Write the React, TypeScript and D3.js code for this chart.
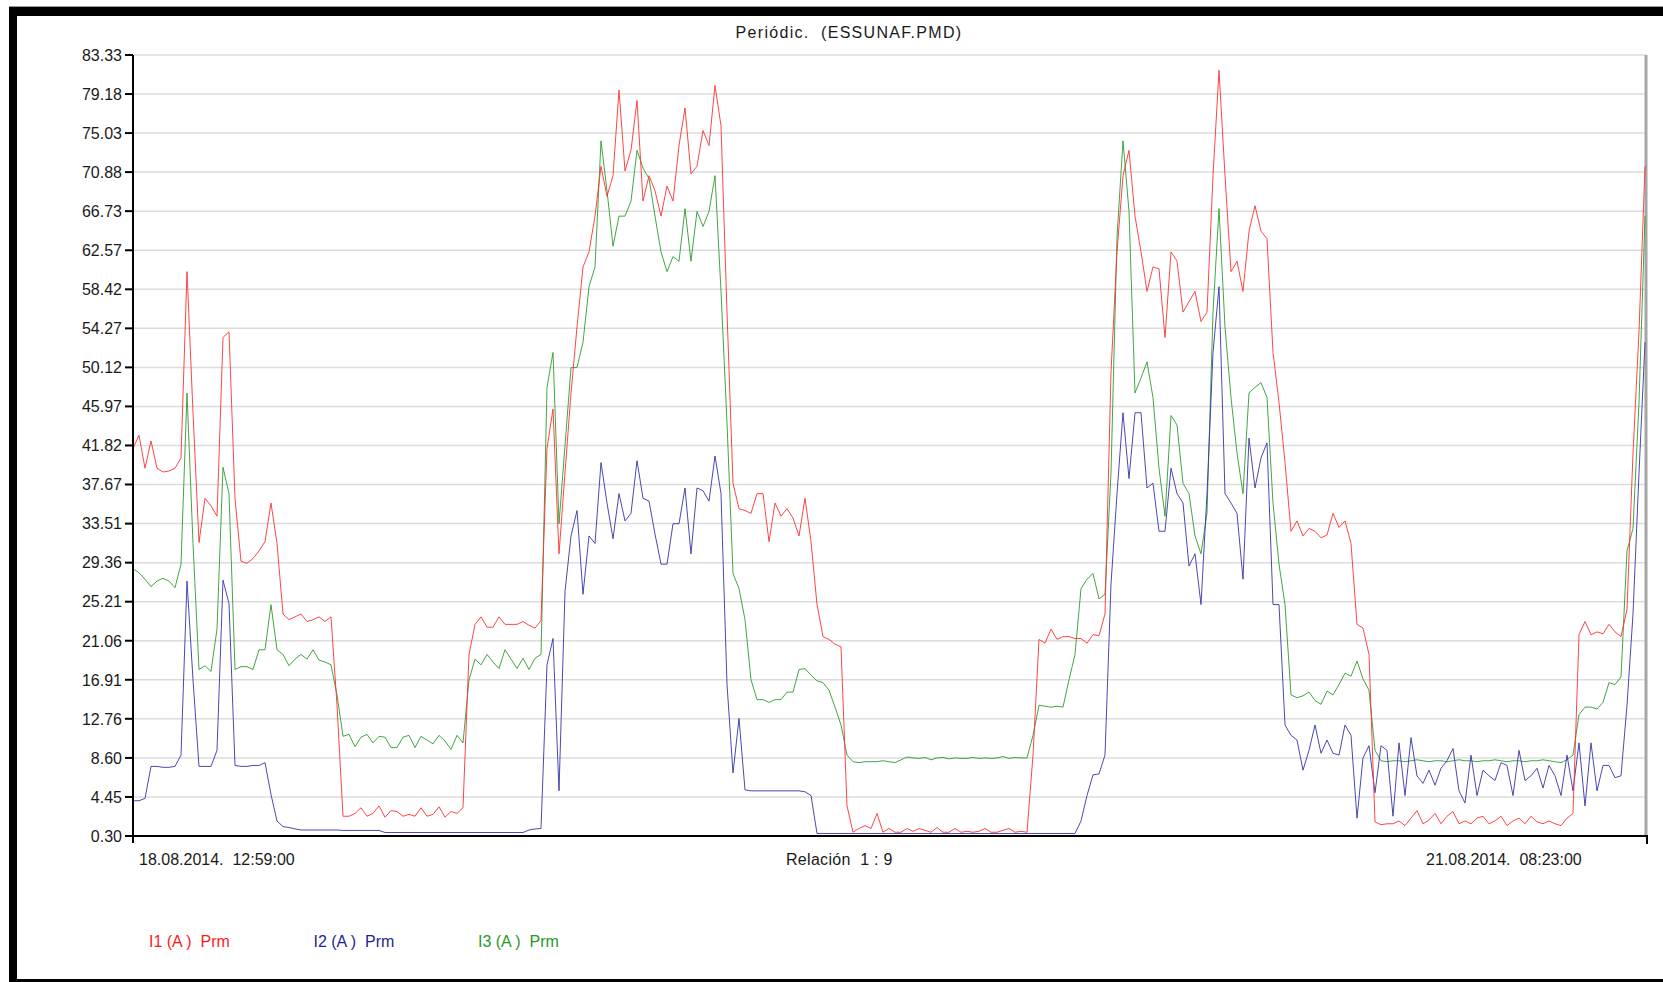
import React from "react";
import * as d3 from "d3";

// y axis tick labels (as printed by the meter software)
const yTicks = [0.30, 4.45, 8.60, 12.76, 16.91, 21.06, 25.21, 29.36, 33.51, 37.67, 41.82,
  45.97, 50.12, 54.27, 58.42, 62.57, 66.73, 70.88, 75.03, 79.18, 83.33];

const title = "Periódic.  (ESSUNAF.PMD)";
const startLabel = "18.08.2014.  12:59:00";
const ratioLabel = "Relación  1 : 9";
const endLabel = "21.08.2014.  08:23:00";

// I1 (A) Prm
const i1 = [
  41.5, 42.9, 39.4, 42.3, 39.4, 39.0, 39.1, 39.4, 40.5, 60.3, 45.3, 31.5, 36.2, 35.4, 34.3, 53.3, 53.9, 36.2, 29.5, 29.3,
  29.8, 30.6, 31.6, 35.7, 31.4, 23.9, 23.3, 23.6, 23.9, 23.1, 23.3, 23.6, 23.1, 23.6, 14.2, 2.4, 2.4, 2.7, 3.3, 2.4,
  2.7, 3.5, 2.3, 3.0, 2.9, 2.4, 2.6, 2.4, 3.3, 2.4, 2.6, 3.4, 2.3, 2.9, 2.7, 3.3, 19.6, 22.8, 23.6, 22.5,
  22.5, 23.6, 22.8, 22.8, 22.8, 23.1, 22.7, 22.4, 23.2, 41.5, 45.7, 30.3, 38.9, 47.4, 54.4, 60.8, 62.4, 66.2, 71.5, 68.3,
  70.5, 79.6, 71.0, 73.2, 78.5, 67.8, 70.5, 68.9, 66.2, 69.4, 67.8, 73.7, 77.7, 70.7, 71.5, 75.3, 73.7, 80.1, 75.8, 56.0,
  37.8, 35.1, 34.9, 34.6, 36.7, 36.7, 31.6, 35.7, 34.3, 35.1, 34.1, 32.2, 36.2, 31.6, 24.9, 21.5, 21.2, 20.7, 20.4, 3.5,
  0.7, 1.1, 1.4, 1.1, 2.7, 0.7, 1.1, 0.7, 0.7, 1.1, 0.8, 1.1, 0.9, 0.7, 1.2, 0.7, 0.7, 1.1, 0.7, 0.8,
  0.7, 0.8, 1.1, 0.7, 0.7, 0.9, 1.1, 0.7, 0.8, 0.7, 8.9, 21.2, 20.8, 22.3, 21.2, 21.5, 21.5, 21.3, 21.3, 20.8,
  21.7, 21.6, 23.9, 49.6, 62.4, 70.5, 73.2, 66.2, 62.4, 58.2, 60.8, 60.6, 53.3, 62.4, 61.4, 56.0, 57.1, 58.2, 55.0, 56.0,
  70.5, 81.7, 70.5, 60.3, 61.4, 58.2, 64.6, 67.3, 64.6, 63.8, 51.7, 46.4, 40.0, 32.7, 33.8, 32.2, 33.0, 32.7, 32.0, 32.3,
  34.6, 33.1, 33.8, 31.4, 22.8, 22.4, 19.6, 1.8, 1.5, 1.6, 1.6, 1.9, 1.4, 2.2, 3.0, 1.6, 2.0, 2.7, 1.6, 2.4,
  2.9, 1.6, 1.9, 1.6, 2.2, 2.4, 1.6, 1.9, 2.4, 1.4, 1.9, 2.2, 1.6, 2.4, 1.8, 1.6, 1.9, 1.6, 1.4, 2.2,
  2.7, 21.7, 23.1, 21.7, 22.0, 21.8, 22.8, 22.0, 21.5, 24.4, 41.0, 53.9, 71.5,
];

// I2 (A) Prm
const i2 = [
  4.05, 4.05, 4.3, 7.7, 7.7, 7.6, 7.6, 7.7, 8.9, 27.4, 16.9, 7.7, 7.7, 7.7, 9.4, 27.5, 25.0, 7.8, 7.7, 7.7,
  7.8, 7.8, 8.1, 4.7, 1.9, 1.3, 1.2, 1.05, 0.94, 0.94, 0.94, 0.94, 0.94, 0.94, 0.94, 0.89, 0.89, 0.89, 0.89, 0.89,
  0.89, 0.89, 0.67, 0.67, 0.67, 0.67, 0.67, 0.67, 0.67, 0.67, 0.67, 0.67, 0.67, 0.67, 0.67, 0.67, 0.67, 0.67, 0.67, 0.67,
  0.67, 0.67, 0.67, 0.67, 0.67, 0.67, 0.94, 1.05, 1.1, 18.5, 21.3, 5.1, 26.3, 32.2, 34.9, 26.0, 32.2, 31.4, 40.0, 35.7,
  31.9, 36.7, 33.8, 34.6, 40.2, 36.2, 35.9, 32.4, 29.2, 29.2, 33.5, 33.5, 37.3, 30.3, 37.3, 37.0, 35.9, 40.7, 36.7, 16.4,
  7.0, 12.8, 5.2, 5.1, 5.1, 5.1, 5.1, 5.1, 5.1, 5.1, 5.1, 5.1, 5.0, 4.6, 0.57, 0.57, 0.57, 0.57, 0.57, 0.57,
  0.57, 0.57, 0.57, 0.57, 0.57, 0.57, 0.57, 0.57, 0.57, 0.57, 0.57, 0.57, 0.57, 0.57, 0.57, 0.57, 0.57, 0.57, 0.57, 0.57,
  0.57, 0.57, 0.57, 0.57, 0.57, 0.57, 0.57, 0.57, 0.57, 0.57, 0.57, 0.57, 0.57, 0.57, 0.57, 0.57, 0.57, 0.57, 1.9, 4.6,
  6.8, 6.9, 8.9, 27.1, 36.7, 45.3, 38.3, 45.3, 45.3, 37.3, 37.8, 32.7, 32.7, 39.4, 36.7, 35.7, 29.0, 30.3, 24.9, 36.7,
  51.7, 58.7, 36.7, 35.7, 34.6, 27.6, 42.6, 37.3, 40.5, 42.1, 24.9, 24.9, 12.1, 11.0, 10.5, 7.3, 9.4, 12.1, 9.1, 10.5,
  9.1, 8.9, 12.1, 11.0, 2.2, 8.6, 9.9, 4.9, 9.9, 9.4, 2.4, 10.2, 4.6, 10.75, 6.7, 5.9, 7.3, 5.7, 7.5, 8.3,
  9.6, 5.1, 3.8, 8.9, 4.6, 7.3, 6.7, 6.2, 8.1, 7.8, 4.6, 9.4, 6.2, 6.7, 7.5, 5.4, 7.8, 6.7, 4.6, 8.9,
  5.1, 10.2, 3.5, 10.2, 5.1, 7.8, 7.8, 6.5, 6.7, 14.2, 23.9, 38.9, 52.8,
];

// I3 (A) Prm
const i3 = [
  28.7, 28.3, 27.6, 26.8, 27.4, 27.7, 27.4, 26.7, 29.2, 47.4, 31.4, 18.0, 18.4, 17.8, 22.3, 39.5, 36.7, 18.0, 18.3, 18.3,
  18.0, 20.1, 20.1, 24.9, 20.1, 19.6, 18.4, 19.1, 19.6, 19.1, 20.1, 19.0, 18.8, 18.5, 15.3, 10.9, 11.1, 9.8, 10.8, 11.1,
  10.2, 10.9, 10.8, 9.7, 9.7, 10.8, 11.0, 9.7, 10.9, 10.5, 10.1, 11.0, 10.4, 9.5, 11.0, 10.2, 16.9, 19.1, 18.5, 19.6,
  18.8, 18.1, 20.1, 19.1, 18.1, 19.2, 18.0, 19.2, 19.6, 48.0, 51.7, 33.5, 41.8, 50.1, 50.1, 52.8, 58.7, 60.8, 74.2, 68.9,
  63.0, 66.2, 66.2, 67.8, 73.2, 71.3, 70.2, 66.2, 62.4, 60.3, 61.9, 61.4, 67.0, 61.4, 66.7, 65.1, 66.7, 70.5, 58.2, 44.2,
  28.2, 26.6, 23.3, 16.9, 14.8, 14.8, 14.5, 14.8, 14.8, 15.6, 15.6, 18.0, 18.1, 17.4, 16.8, 16.6, 15.8, 14.0, 12.1, 8.9,
  8.2, 8.1, 8.2, 8.2, 8.2, 8.3, 8.2, 8.1, 8.4, 8.7, 8.6, 8.55, 8.65, 8.4, 8.6, 8.65, 8.5, 8.6, 8.55, 8.55,
  8.65, 8.55, 8.6, 8.55, 8.6, 8.75, 8.55, 8.65, 8.6, 8.6, 11.0, 14.2, 14.1, 14.0, 14.1, 14.0, 16.9, 19.6, 26.6, 27.6,
  28.2, 25.5, 26.0, 38.9, 64.0, 74.2, 66.7, 47.4, 49.0, 50.7, 46.9, 39.4, 34.3, 45.0, 44.0, 37.8, 36.7, 32.2, 30.3, 34.6,
  56.0, 67.0, 54.4, 46.9, 41.0, 36.7, 47.4, 48.0, 48.5, 46.9, 35.7, 29.2, 24.9, 15.3, 15.0, 15.2, 15.6, 14.7, 14.3, 15.7,
  15.3, 16.4, 17.6, 17.3, 18.9, 17.0, 15.8, 9.4, 8.3, 8.2, 8.3, 8.3, 8.2, 8.3, 8.4, 8.3, 8.2, 8.3, 8.3, 8.2,
  8.3, 8.4, 8.3, 8.3, 8.2, 8.3, 8.3, 8.4, 8.3, 8.2, 8.3, 8.3, 8.2, 8.3, 8.3, 8.4, 8.3, 8.2, 8.1, 8.4,
  8.9, 13.2, 14.0, 14.0, 13.8, 14.5, 16.6, 16.4, 17.2, 30.6, 33.0, 46.4, 66.2,
];

const legendNames = ["I1 (A )  Prm", "I2 (A )  Prm", "I3 (A )  Prm"];
const lineColors = ["#ff3030", "#3434a8", "#2f9a2f"];
const textColors = ["#ff1a1a", "#1f1f8c", "#259a25"];

const FONT = "'Liberation Sans', Arial, sans-serif";

export default function App() {
  const left = 133, right = 1646, top = 55, bottom = 836;
  const x = d3.scaleLinear().domain([0, i1.length - 1]).range([left, right - 1]);
  const y = d3.scaleLinear().domain([yTicks[0], yTicks[yTicks.length - 1]]).range([bottom, top]);
  const line = d3.line<number>().x((d, i) => x(i)).y(d => y(d));

  // draw order: green below, red on top
  const drawOrder = [2, 1, 0];
  const all = [i1, i2, i3];

  return (
    <svg width={1663} height={982} style={{ position: "absolute", left: 0, top: 0, background: "#fff" }}
      fontFamily={FONT}>
      {/* frame */}
      <line x1={9} x2={1663} y1={6.5} y2={6.5} stroke="#999" strokeWidth={1} />
      <rect x={9} y={7} width={1654} height={9} fill="#000" />
      <rect x={9} y={7} width={8} height={975} fill="#000" />
      <rect x={9} y={979} width={1654} height={3} fill="#000" />

      <text x={849} y={38} textAnchor="middle" fontSize={16} letterSpacing={1.3} fill="#1a1a1a"
        style={{ whiteSpace: "pre" }}>{title}</text>

      {/* grid */}
      {yTicks.map(t => (
        <line key={"g" + t} x1={left} x2={right} y1={y(t)} y2={y(t)} stroke="#dcdcdc" strokeWidth={1.5} />
      ))}
      <line x1={right} x2={right} y1={top} y2={bottom} stroke="#a6a6a6" strokeWidth={3} />

      {/* series */}
      {drawOrder.map(k => (
        <path key={"s" + k} d={line(all[k]) || ""} fill="none" stroke={lineColors[k]} strokeWidth={0.9}
          strokeLinejoin="round" />
      ))}

      {/* axes */}
      <line x1={left} x2={left} y1={top} y2={843} stroke="#000" strokeWidth={2} />
      <line x1={left} x2={right + 2} y1={bottom} y2={bottom} stroke="#000" strokeWidth={2} />
      <line x1={right + 1} x2={right + 1} y1={bottom} y2={844} stroke="#000" strokeWidth={2} />
      {yTicks.map(t => (
        <g key={"t" + t}>
          <line x1={125} x2={left} y1={y(t)} y2={y(t)} stroke="#000" strokeWidth={2} />
          <text x={122} y={y(t) + 5.8} textAnchor="end" fontSize={16} fill="#1a1a1a">{t.toFixed(2)}</text>
        </g>
      ))}

      <text x={139} y={865} fontSize={16} fill="#1a1a1a" style={{ whiteSpace: "pre" }}>{startLabel}</text>
      <text x={786} y={865} fontSize={16} fill="#1a1a1a" letterSpacing={0.3} style={{ whiteSpace: "pre" }}>{ratioLabel}</text>
      <text x={1426} y={865} fontSize={16} fill="#1a1a1a" style={{ whiteSpace: "pre" }}>{endLabel}</text>

      {legendNames.map((n, k) => (
        <text key={n} x={149 + k * 164.5} y={947} fontSize={16} fill={textColors[k]}
          style={{ whiteSpace: "pre" }}>{n}</text>
      ))}
    </svg>
  );
}
